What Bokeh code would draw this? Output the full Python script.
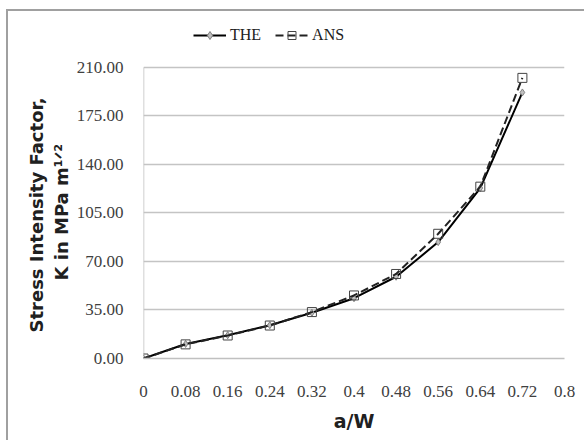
from bokeh.plotting import figure
from bokeh.models import (ColumnDataSource, FixedTicker, NumeralTickFormatter,
                          Legend, LegendItem, Range1d, Title)
from bokeh.embed import file_html
from bokeh.resources import INLINE

# ---- data ----
a_w = [0.0, 0.08, 0.16, 0.24, 0.32, 0.40, 0.48, 0.56, 0.64, 0.72]
k_the = [0.0, 10.5, 16.8, 24.0, 33.0, 43.5, 59.0, 84.0, 123.0, 192.0]
k_ans = [0.0, 10.2, 16.6, 23.8, 33.5, 45.5, 61.0, 90.0, 124.0, 202.5]
x_ticks = [0.0, 0.08, 0.16, 0.24, 0.32, 0.40, 0.48, 0.56, 0.64, 0.72, 0.80]
x_tick_labels = ["0", "0.08", "0.16", "0.24", "0.32", "0.4", "0.48", "0.56", "0.64", "0.72", "0.8"]
y_ticks = [0, 35, 70, 105, 140, 175, 210]
y_title_1 = "Stress Intensity Factor,"
y_title_2 = "K in MPa m\u00b9\u141f\u00b2"

W, H = 580, 431
p = figure(width=W, height=H, output_backend="svg", toolbar_location=None,
           x_range=Range1d(0, 0.8), y_range=Range1d(0, 246.8),
           min_border_left=135, min_border_right=24,
           min_border_top=5, min_border_bottom=84)
p.outline_line_color = None
p.background_fill_color = "white"
p.border_fill_color = "white"
p.styles = {"box-shadow": "-2px -2px 0px 0px #a0a0a0",
            "margin-left": "8px", "margin-top": "11px"}

src = ColumnDataSource(dict(x=a_w, the=k_the, ans=k_ans))

# left axis line only spanning the tick range
p.segment(x0=[x_ticks[0]], y0=[y_ticks[0]], x1=[x_ticks[0]], y1=[y_ticks[-1]],
          line_color="#c0c0c0", line_width=1.5)

r_the_l = p.line("x", "the", source=src, line_color="black", line_width=2)
r_the_m = p.scatter("x", "the", source=src, marker="diamond", size=7,
                    line_color="#808080", fill_color="#c0c0c0")
r_ans_l = p.line("x", "ans", source=src, line_color="#222222", line_width=2,
                 line_dash="8 4")
r_ans_m = p.scatter("x", "ans", source=src, marker="square", size=9,
                    line_color="#444444", fill_color=None, line_width=1)

# axes
p.xaxis.ticker = FixedTicker(ticks=x_ticks)
p.xaxis.major_label_overrides = {t: l for t, l in zip(x_ticks, x_tick_labels)}
p.yaxis.ticker = FixedTicker(ticks=y_ticks)
p.yaxis.formatter = NumeralTickFormatter(format="0.00")
for ax in (p.xaxis, p.yaxis):
    ax.major_tick_line_color = None
    ax.minor_tick_line_color = None
    ax.major_label_text_font = "Liberation Serif"
    ax.major_label_text_font_size = "17px"
    ax.major_label_text_color = "#404040"
p.xaxis.axis_line_color = "#c0c0c0"
p.xaxis.axis_line_width = 1.5
p.yaxis.axis_line_color = None
p.xaxis.major_label_standoff = 21
p.yaxis.major_label_standoff = 14

p.xaxis.axis_label = "a/W"
p.xaxis.axis_label_text_font = "DejaVu Sans"
p.xaxis.axis_label_text_font_style = "bold"
p.xaxis.axis_label_text_font_size = "19px"
p.xaxis.axis_label_text_color = "#202020"
p.xaxis.axis_label_standoff = 10

# y-axis title lines as left-side titles
for txt, off, so in ((y_title_2, 78, 4), (y_title_1, 26, 0)):
    p.add_layout(Title(text=txt, align="left", offset=off, standoff=so,
                       text_font="DejaVu Sans", text_font_style="bold",
                       text_font_size="18px", text_color="#202020"), "left")

p.xgrid.grid_line_color = None
p.ygrid.grid_line_color = "#c4c4c4"
p.ygrid.grid_line_width = 1.5

legend = Legend(items=[LegendItem(label="THE", renderers=[r_the_l, r_the_m]),
                       LegendItem(label="ANS", renderers=[r_ans_l, r_ans_m])],
                orientation="horizontal", location=(50, 313),
                label_text_font="Liberation Serif", label_text_font_size="16px",
                label_text_color="#202020", glyph_width=33, spacing=14,
                border_line_color=None, background_fill_alpha=0,
                padding=2, margin=0, label_standoff=4)
p.add_layout(legend)

html = file_html(p, INLINE)
i = html.rfind("</head>")
if i >= 0:
    html = html[:i] + "<style>html,body{overflow:hidden}</style>" + html[i:]
open("out.html", "w").write(html)
